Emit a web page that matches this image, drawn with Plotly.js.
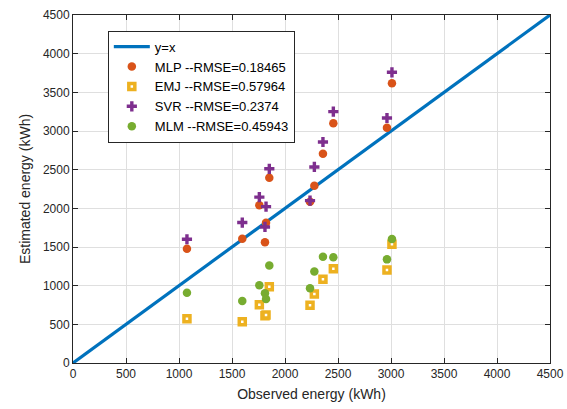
<!DOCTYPE html>
<html>
<head>
<meta charset="utf-8">
<script src="https://cdn.plot.ly/plotly-3.0.1.min.js"></script>
<style>html,body{margin:0;padding:0;background:#fff;}#chart{width:567px;height:409px;}</style>
</head>
<body>
<div id="chart"></div>
<script>
var identityLine = [0, 4500];
var observed = [1075, 1597, 1758, 1811, 1821, 1852, 2236, 2277, 2358, 2456, 2962, 3009];
var mlp = [1478, 1608, 2039, 1561, 1815, 2394, 2086, 2293, 2707, 3100, 3043, 3617];
var emj = [573, 534, 752, 612, 620, 985, 746, 892, 1084, 1220, 1203, 1535];
var svr = [1600, 1816, 2145, 1759, 2022, 2511, 2100, 2535, 2858, 3250, 3168, 3759];
var mlm = [909, 802, 1005, 901, 828, 1261, 966, 1183, 1375, 1367, 1340, 1604];
var tickVals = [0, 500, 1000, 1500, 2000, 2500, 3000, 3500, 4000, 4500];

var traces = [
  {x: identityLine, y: identityLine, mode: 'lines', name: 'y=x',
   line: {color: '#0072BD', width: 3.2}},
  {x: observed, y: mlp, mode: 'markers', name: 'MLP --RMSE=0.18465',
   marker: {symbol: 'circle', size: 8.5, color: '#D95319'}},
  {x: observed, y: emj, mode: 'markers', name: 'EMJ --RMSE=0.57964',
   marker: {symbol: 'square', size: 6, color: '#ffffff', line: {color: '#EDB120', width: 3.5}}},
  {x: observed, y: svr, mode: 'markers', name: 'SVR --RMSE=0.2374',
   marker: {symbol: 'cross', size: 8.5, color: '#7E2F8E'}},
  {x: observed, y: mlm, mode: 'markers', name: 'MLM --RMSE=0.45943',
   marker: {symbol: 'circle', size: 8.5, color: '#77AC30'}}
];

var axisCommon = {
  range: [0, 4500], tickvals: tickVals, showgrid: true, gridcolor: '#dfdfdf', gridwidth: 1,
  zeroline: false, showline: true, linecolor: '#262626', linewidth: 1, mirror: 'ticks',
  ticks: 'inside', ticklen: 5, tickcolor: '#262626',
  tickfont: {family: 'Liberation Sans, Arial, sans-serif', size: 12, color: '#262626'}
};

var layout = {
  width: 567, height: 409,
  margin: {l: 73, r: 17, t: 15, b: 46},
  paper_bgcolor: '#ffffff', plot_bgcolor: '#ffffff',
  showlegend: true,
  xaxis: Object.assign({}, axisCommon, {
    title: {text: 'Observed energy (kWh)', standoff: 8,
            font: {family: 'Liberation Sans, Arial, sans-serif', size: 14, color: '#262626'}}
  }),
  yaxis: Object.assign({}, axisCommon, {
    title: {text: 'Estimated energy (kWh)', standoff: 8,
            font: {family: 'Liberation Sans, Arial, sans-serif', size: 14, color: '#262626'}}
  }),
  legend: {
    x: 0.073, y: 0.955, xanchor: 'left', yanchor: 'top',
    bgcolor: '#ffffff', bordercolor: '#262626', borderwidth: 1,
    font: {family: 'Liberation Sans, Arial, sans-serif', size: 13, color: '#000000'},
    itemwidth: 36, tracegroupgap: 0
  }
};

Plotly.newPlot('chart', traces, layout, {displayModeBar: false, staticPlot: true});
</script>
</body>
</html>
